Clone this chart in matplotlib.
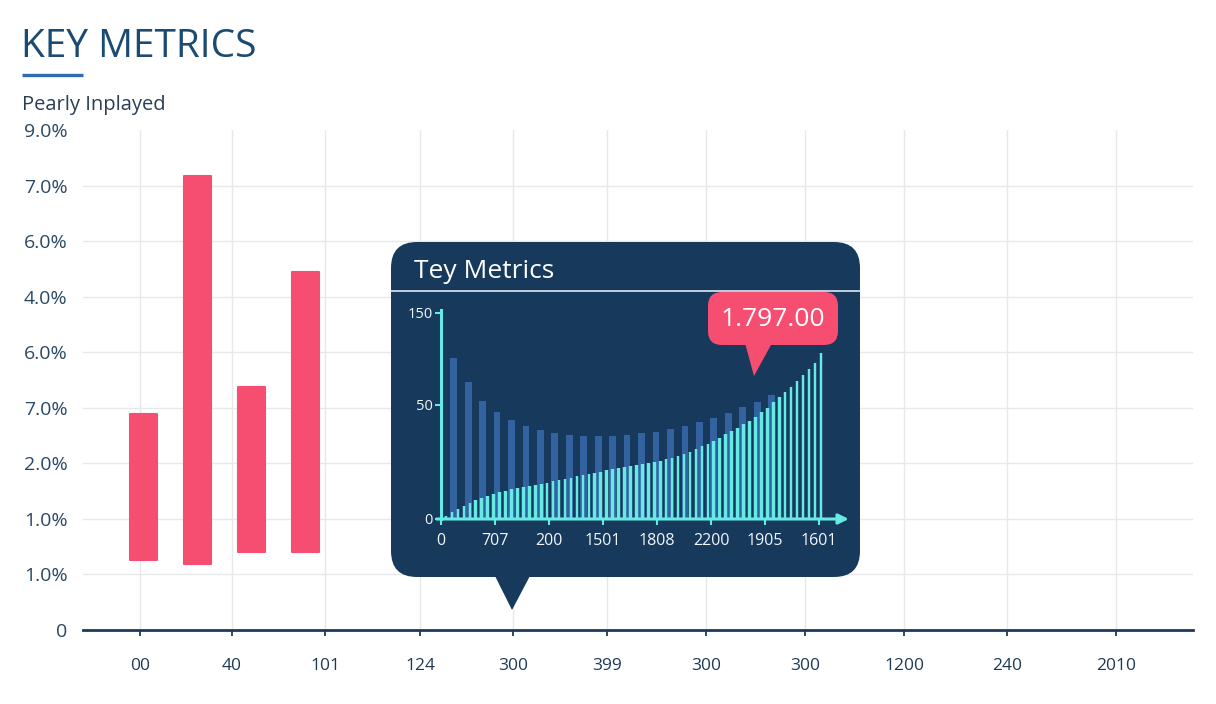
import matplotlib
matplotlib.use("Agg")
import matplotlib.pyplot as plt
import numpy as np
from matplotlib.patches import FancyBboxPatch, Polygon

plt.rcParams['font.family'] = ['Open Sans', 'DejaVu Sans']

# Main chart (y values in grid steps, labels as printed on the chart)
y_labels = ["0", "1.0%", "1.0%", "2.0%", "7.0%", "6.0%", "4.0%", "6.0%", "7.0%", "9.0%"]
x_labels = ["00", "40", "101", "124", "300", "399", "300", "300", "1200", "240", "2010"]
x_ticks = [0, 0.92, 1.85, 2.80, 3.73, 4.67, 5.66, 6.65, 7.64, 8.67, 9.76]
bar_x = [0.035, 0.575, 1.115, 1.655]
bar_low = [1.26, 1.19, 1.40, 1.40]
bar_high = [3.88, 8.18, 4.37, 6.44]

# Inset chart
inset_x_labels = ["0", "707", "200", "1501", "1808", "2200", "1905", "1601"]
inset_y_ticks = [0, 50, 90.4]
inset_y_labels = ["0", "50", "150"]
blue_vals = [70.5, 60.2, 51.9, 46.8, 43.3, 40.7, 39.0, 37.9, 36.8, 36.4, 36.3, 36.3,
             36.8, 37.6, 38.3, 39.5, 40.9, 42.4, 44.4, 46.4, 49.3, 51.3, 54.4]
cyan_vals = [1.5, 3.0, 4.5, 5.8, 7.2, 8.2, 9.3, 10.1, 10.9, 11.7, 12.3, 13.0, 13.5, 14.0,
             14.6, 15.1, 15.5, 16.0, 16.6, 17.1, 17.7, 18.2, 18.7, 19.2, 19.8, 20.3, 20.8,
             21.3, 21.8, 22.4, 22.9, 23.4, 23.8, 24.2, 24.6, 25.0, 25.6, 26.2, 26.9, 27.6,
             28.4, 29.4, 30.6, 31.8, 33.1, 34.3, 35.7, 37.1, 38.5, 39.9, 41.5, 43.2, 44.9,
             46.9, 48.9, 51.1, 53.5, 55.9, 57.8, 60.6, 63.2, 65.7, 68.4, 72.9]
callout_text = "1.797.00"

NAVY = "#17395c"
PINK = "#f64e71"
CYAN = "#66eae6"
BLUE = "#3767a9"

W, H = 1216, 704
fig = plt.figure(figsize=(W / 100, H / 100), dpi=100)
fig.patch.set_facecolor("white")

# ---- main axes
ax = fig.add_axes([83 / W, 1 - 630 / H, (1193 - 83) / W, (630 - 130) / H])
ax.bar(bar_x, np.array(bar_high) - np.array(bar_low), bottom=bar_low, width=0.27,
       color=PINK, edgecolor=PINK, linewidth=1.5, joinstyle="round", zorder=3)
ax.set_xlim(-0.57, 10.53)
ax.set_ylim(0, 9)
ax.set_xticks(x_ticks)
ax.set_xticklabels(x_labels)
ax.set_yticks(range(len(y_labels)))
ax.set_yticklabels(y_labels)
ax.grid(True, color="#e8e8e8", lw=1, zorder=0)
ax.set_axisbelow(True)
ax.yaxis.get_gridlines()[-1].set_visible(False)
for s in ["top", "right", "left"]:
    ax.spines[s].set_visible(False)
ax.spines["bottom"].set_color("#1d3a58")
ax.spines["bottom"].set_linewidth(2)
ax.tick_params(axis="x", length=4.5, width=1.3, color="#1d3a58", pad=16,
               labelsize=12.5, labelcolor="#1e3a56")
ax.tick_params(axis="y", length=0, pad=11, labelsize=14, labelcolor="#2a4866")

# ---- overlay for title and inset panel
ov = fig.add_axes([0, 0, 1, 1], zorder=1)
ov.set_xlim(0, W)
ov.set_ylim(H, 0)
ov.axis("off")
ov.patch.set_alpha(0)

ov.text(21, 57, "KEY METRICS", fontsize=28, color="#1b4a72", va="baseline")
ov.plot([22, 83], [75, 75], color="#2f6db0", lw=2.4, solid_capstyle="butt")
ov.text(22, 110, "Pearly Inplayed", fontsize=14.5, color="#2a3f55", va="baseline")

ov.add_patch(FancyBboxPatch((391, 242), 469, 335, boxstyle="round,pad=0,rounding_size=26",
                            facecolor=NAVY, edgecolor="none"))
ov.add_patch(Polygon([(494, 574), (531, 574), (512, 610)], closed=True,
                     facecolor=NAVY, edgecolor="none"))
ov.plot([391, 860], [291, 291], color="#dfe9f1", lw=1.2)
ov.text(414, 271, "Tey Metrics", fontsize=19, color="white", va="center")

# ---- inset chart
ix = fig.add_axes([441 / W, 1 - 519 / H, 400 / W, 219 / H], zorder=2)
ix.patch.set_alpha(0)
ix.set_xlim(0, 400 / 54)
ix.set_ylim(0, 219 / 2.28)
blue_x = 0.235 + 0.2676 * np.arange(len(blue_vals))
cyan_x = 0.0926 + 0.1102 * np.arange(len(cyan_vals))
ix.bar(blue_x, blue_vals, width=0.125, color=BLUE, alpha=0.9, zorder=2)
ix.bar(cyan_x, cyan_vals, width=0.085, color=CYAN, alpha=0.22, zorder=3)
ix.bar(cyan_x, cyan_vals, width=0.048, color=CYAN, zorder=4)
ix.set_xticks(range(len(inset_x_labels)))
ix.set_xticklabels(inset_x_labels)
ix.set_yticks(inset_y_ticks)
ix.set_yticklabels(inset_y_labels)
for s in ["top", "right", "bottom"]:
    ix.spines[s].set_visible(False)
ix.spines["left"].set_color(CYAN)
ix.spines["left"].set_linewidth(2.2)
ix.spines["left"].set_bounds(0, 91.5)
ix.annotate("", xy=(7.55, 0), xytext=(-0.08, 0), annotation_clip=False,
            arrowprops=dict(arrowstyle="-|>,head_length=0.6,head_width=0.3",
                            color=CYAN, lw=2.2, shrinkA=0, shrinkB=0))
ix.tick_params(axis="x", length=4, width=1.5, color=CYAN, pad=6,
               labelsize=11.5, labelcolor="#f2f7fa")
ix.tick_params(axis="y", length=4, width=1.5, color=CYAN, pad=2,
               labelsize=10.5, labelcolor="#f2f7fa")

# ---- callout bubble
fr = fig.add_axes([0, 0, 1, 1], zorder=3)
fr.set_xlim(0, W)
fr.set_ylim(H, 0)
fr.axis("off")
fr.patch.set_alpha(0)
fr.add_patch(FancyBboxPatch((708, 292), 130, 53, boxstyle="round,pad=0,rounding_size=14",
                            facecolor=PINK, edgecolor="none"))
fr.add_patch(Polygon([(745, 343), (772, 343), (754, 376)], closed=True,
                     facecolor=PINK, edgecolor="none"))
fr.text(773, 320, callout_text, fontsize=19, color="white", ha="center", va="center")

fig.savefig("out.png", dpi=100)
